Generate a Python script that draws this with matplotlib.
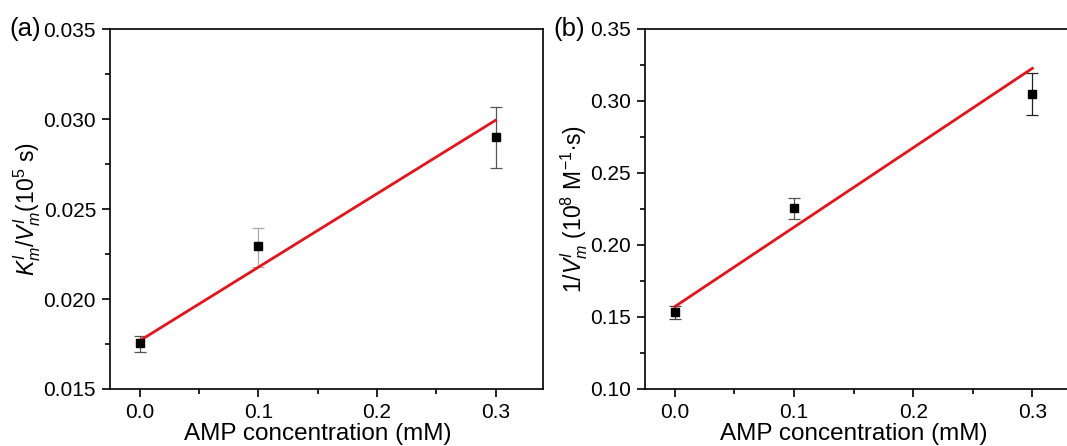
import numpy as np
import matplotlib
matplotlib.use("Agg")
import matplotlib.pyplot as plt
from matplotlib.ticker import MultipleLocator, FormatStrFormatter

plt.rcParams['font.family'] = ['Liberation Sans', 'DejaVu Sans']
plt.rcParams['mathtext.fontset'] = 'custom'
plt.rcParams['mathtext.rm'] = 'Liberation Sans'
plt.rcParams['mathtext.it'] = 'Liberation Sans:italic'
plt.rcParams['mathtext.bf'] = 'Liberation Sans:bold'

# --------------------------------------------------
# Data
# --------------------------------------------------
amp = [0.0, 0.1, 0.3]

# (a) Km/Vm
km_vm = [0.01754, 0.02293, 0.02898]
km_vm_lo = [0.01704, 0.02179, 0.02728]
km_vm_hi = [0.01796, 0.02396, 0.03067]
fit_a_x = [0.0, 0.3]
fit_a_y = [0.01768, 0.02993]

# (b) 1/Vm
inv_vm = [0.1535, 0.2256, 0.3049]
inv_vm_lo = [0.1486, 0.2180, 0.2900]
inv_vm_hi = [0.1578, 0.2325, 0.3197]
fit_b_x = [0.0, 0.3]
fit_b_y = [0.1572, 0.3227]

W, H = 1067, 446
fig = plt.figure(figsize=(W / 100, H / 100), dpi=100)

ax_a = fig.add_axes([110 / W, 1 - 389 / H, (543 - 110) / W, (389 - 29) / H])
ax_b = fig.add_axes([645 / W, 1 - 389 / H, (1080 - 645) / W, (389 - 29) / H])


def style(ax, ylo, yhi, ymaj, yfmt):
    ax.set_xlim(-0.025, 0.34)
    ax.set_ylim(ylo, yhi)
    ax.xaxis.set_major_locator(MultipleLocator(0.1))
    ax.xaxis.set_minor_locator(MultipleLocator(0.05))
    ax.yaxis.set_major_locator(MultipleLocator(ymaj))
    ax.yaxis.set_minor_locator(MultipleLocator(ymaj / 2))
    ax.xaxis.set_major_formatter(FormatStrFormatter('%.1f'))
    ax.yaxis.set_major_formatter(FormatStrFormatter(yfmt))
    ax.tick_params(which='both', direction='out', top=False, right=False,
                   width=1.2, labelsize=15, colors='black')
    ax.tick_params(which='major', length=6, pad=4)
    ax.tick_params(which='minor', length=3.5)
    for s in ax.spines.values():
        s.set_linewidth(1.2)
    ax.set_xlabel('AMP concentration (mM)', fontsize=17.5)
    ax.xaxis.set_label_coords(0.48, -0.094, transform=ax.transAxes)
    ax.xaxis.label.set_va('top')


def draw(ax, y, lo, hi, fx, fy, ecols):
    for xi, yi, l, h, c in zip(amp, y, lo, hi, ecols):
        ax.errorbar([xi], [yi], yerr=[[yi - l], [h - yi]], fmt='none',
                    ecolor=c, elinewidth=0.9, capsize=4, capthick=0.9, zorder=2)
    ax.plot(fx, fy, color='#e8121a', linewidth=2, zorder=3)
    ax.plot(amp, y, 's', color='black', markersize=5.5, zorder=4)


style(ax_a, 0.015, 0.035, 0.005, '%.3f')
draw(ax_a, km_vm, km_vm_lo, km_vm_hi, fit_a_x, fit_a_y,
     ['#555555', '#aaaaaa', '#555555'])
ax_a.set_ylabel(r'$K^{I}_{m}/V^{I}_{m}$(10$^{5}$ s)', fontsize=16.5, labelpad=0)

style(ax_b, 0.10, 0.35, 0.05, '%.2f')
draw(ax_b, inv_vm, inv_vm_lo, inv_vm_hi, fit_b_x, fit_b_y,
     ['#444444', '#555555', '#222222'])
ax_b.set_ylabel(r'1/$V^{I}_{m}$ (10$^{8}$ M$^{-1}$$\cdot$s)', fontsize=16.5, labelpad=0)

fig.text(9 / W, 1 - 29 / H, '(a)', fontsize=18.5, va='center', ha='left')
fig.text(553 / W, 1 - 29 / H, '(b)', fontsize=18.5, va='center', ha='left')

fig.savefig('out.png', dpi=100)
